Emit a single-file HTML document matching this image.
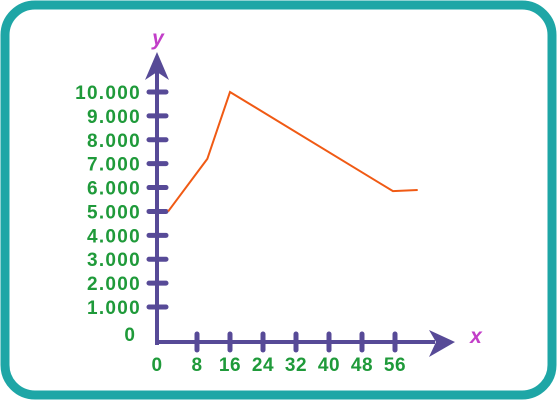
<!DOCTYPE html>
<html><head><style>
html,body{margin:0;padding:0;background:#fff;}
svg text{font-family:"Liberation Sans",sans-serif;font-weight:bold;}
</style></head><body>
<svg width="557" height="400" viewBox="0 0 557 400">
<rect x="5" y="5" width="547" height="390" rx="30" ry="30" fill="#fff" stroke="#1ea6a6" stroke-width="9"/>
<g id="axes"></g>
<g id="marks"></g>
</svg>
<script>
const xTicks=[0,8,16,24,32,40,48,56];
const yTicks=[1000,2000,3000,4000,5000,6000,7000,8000,9000,10000];
const yTickLabels=["1.000","2.000","3.000","4.000","5.000","6.000","7.000","8.000","9.000","10.000"];
const xs=[1,10.5,16,55.5,61.5];
const ys=[5000,7200,10000,5850,5900];
const X=v=>164+v*4.125;
const Y=v=>307-(v-1000)*(215/9000);
const ns="http://www.w3.org/2000/svg";
const ax=document.getElementById('axes'), mk=document.getElementById('marks');
function mkEl(t,a,p){const e=document.createElementNS(ns,t);for(const k in a)e.setAttribute(k,a[k]);p.appendChild(e);return e;}
const col="#574a97", green="#1f9a3a";
let e=mkEl('line',{x1:157,y1:345,x2:157,y2:70,stroke:col,'stroke-width':4},ax);


e=mkEl('polygon',{points:"157,52 145,80 157,72 169,80",fill:col},ax);


e=mkEl('line',{x1:155,y1:342,x2:435,y2:342,stroke:col,'stroke-width':4},ax);


e=mkEl('polygon',{points:"455,342 429,330 436,342 429,357",fill:col},ax);


yTicks.forEach((v,i)=>{
 let t=mkEl('line',{x1:149,x2:166,y1:Y(v),y2:Y(v),stroke:col,'stroke-width':5,'stroke-linecap':'round'},ax);
 
 
 let l=mkEl('text',{x:141,y:Y(v)+7,'text-anchor':'end','font-size':19,'letter-spacing':1.3,fill:green},ax);
 l.textContent=yTickLabels[i];
 
 
});
let z=mkEl('text',{x:135,y:341,'text-anchor':'end','font-size':19,fill:green},ax);z.textContent="0";


xTicks.forEach(v=>{
 if(v>0){let t=mkEl('line',{x1:X(v),x2:X(v),y1:334,y2:350,stroke:col,'stroke-width':5,'stroke-linecap':'round'},ax);
 
 }
 let l=mkEl('text',{x:v===0?157:X(v),y:371,'text-anchor':'middle','font-size':19,'letter-spacing':0.5,fill:green},ax);
 l.textContent=String(v);
 
 
});
let yl=mkEl('text',{x:158,y:45,'text-anchor':'middle','font-size':21,'font-style':'italic',fill:"#c23ec8"},ax);yl.textContent="y";


let xl=mkEl('text',{x:476,y:343,'text-anchor':'middle','font-size':21,'font-style':'italic',fill:"#c23ec8"},ax);xl.textContent="x";


const pts=xs.map((v,i)=>X(v)+","+Y(ys[i])).join(" ");
let pl=mkEl('polyline',{points:pts,fill:"none",stroke:"#f05a14",'stroke-width':2},mk);


</script>
</body></html>
